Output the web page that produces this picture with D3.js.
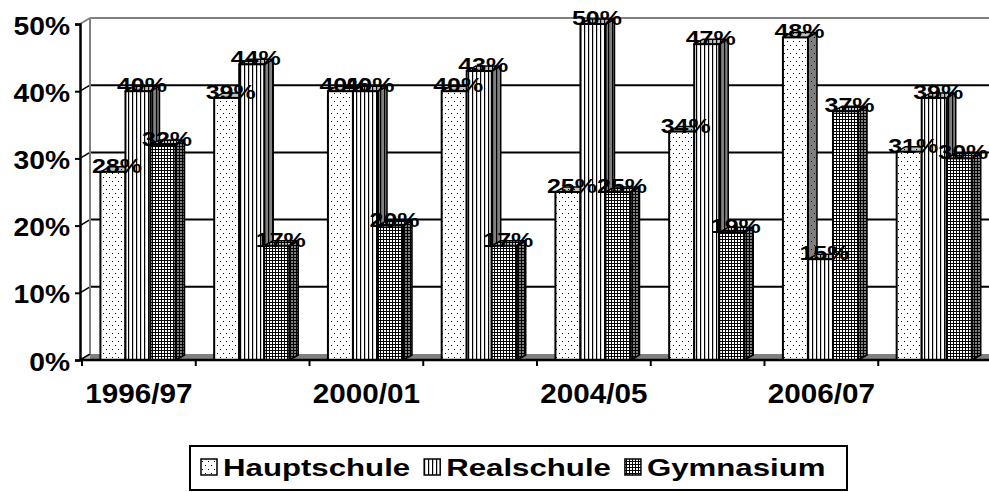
<!DOCTYPE html>
<html>
<head>
<meta charset="utf-8">
<script src="https://cdn.jsdelivr.net/npm/d3@7"></script>
<style>
  body { margin: 0; background: #fff; }
  svg { display: block; }
  text { font-family: "Liberation Sans", Arial, sans-serif; font-weight: bold; fill: #000; }
</style>
</head>
<body>
<div id="chart"></div>
<script>
// school years (only every other one is labelled on the axis)
const categories = ["1996/97", "1998/99", "2000/01", "2002/03", "2004/05", "2005/06", "2006/07", "2007/08"];
const tickLabels = ["1996/97", "2000/01", "2004/05", "2006/07"];
const seriesNames = ["Hauptschule", "Realschule", "Gymnasium"];
const hauptschule = [28, 39, 40, 40, 25, 34, 48, 31];
const realschule = [40, 44, 40, 43, 50, 47, 15, 39];
const gymnasium = [32, 17, 20, 17, 25, 19, 37, 30];
const yTicks = [0, 10, 20, 30, 40, 50];

const seriesValues = [hauptschule, realschule, gymnasium];
const patternIds = ["pat-h", "pat-r", "pat-g"];

const W = 989, H = 492;
const plotLeft = 80, plotBottom = 360, plotTop = 24;
const depth = { x: 10, y: -6 };     // wall depth
const barDepth = { x: 9, y: -5 };   // column depth

const svg = d3.select("#chart").append("svg")
  .attr("width", W).attr("height", H);

// fill patterns (transparent background, black marks)
const defs = svg.append("defs");
const ph = defs.append("pattern").attr("id", "pat-h").attr("patternUnits", "userSpaceOnUse")
  .attr("width", 6).attr("height", 8);
ph.append("rect").attr("x", 1).attr("y", 1).attr("width", 1).attr("height", 1).attr("fill", "#000");
ph.append("rect").attr("x", 4).attr("y", 5).attr("width", 1).attr("height", 1).attr("fill", "#000");

const pr = defs.append("pattern").attr("id", "pat-r").attr("patternUnits", "userSpaceOnUse")
  .attr("width", 4).attr("height", 4);
pr.append("rect").attr("x", 0).attr("y", 0).attr("width", 1.2).attr("height", 4).attr("fill", "#000");

const pg = defs.append("pattern").attr("id", "pat-g").attr("patternUnits", "userSpaceOnUse")
  .attr("width", 3).attr("height", 3);
pg.append("rect").attr("x", 2).attr("y", 0).attr("width", 1).attr("height", 3).attr("fill", "#000");
pg.append("rect").attr("x", 0).attr("y", 2).attr("width", 3).attr("height", 1).attr("fill", "#000");

const x0 = d3.scaleBand().domain(categories).range([82, 992]).padding(0);
const bw = x0.bandwidth();
const x1 = d3.scaleBand().domain(seriesNames).range([bw * 0.162, bw * 0.822]).padding(0);
const y = d3.scaleLinear().domain([0, 50]).range([plotBottom, plotTop]);

// floor
svg.append("polygon")
  .attr("points", [[plotLeft, plotBottom], [plotLeft + depth.x, plotBottom + depth.y], [W + 5, plotBottom + depth.y], [W + 5, plotBottom]].join(" "))
  .attr("fill", "#808080");
svg.append("polygon")
  .attr("points", [[plotLeft, plotBottom], [plotLeft + depth.x, plotBottom + depth.y], [plotLeft + depth.x, plotBottom], [plotLeft, plotBottom]].join(" "))
  .attr("fill", "#c0c0c0");

// gridlines on the back wall + side wall slants
yTicks.forEach(t => {
  const yy = y(t);
  const isTop = t === 50;
  const col = isTop ? "#808080" : "#000";
  if (t > 0) {
    svg.append("line")
      .attr("x1", plotLeft + depth.x).attr("x2", W + 5)
      .attr("y1", yy + depth.y).attr("y2", yy + depth.y)
      .attr("stroke", col).attr("stroke-width", 2);
  }
  svg.append("line")
    .attr("x1", plotLeft).attr("x2", plotLeft + depth.x)
    .attr("y1", yy).attr("y2", yy + depth.y)
    .attr("stroke", col).attr("stroke-width", isTop ? 2 : 1.5);
});
svg.append("line")
  .attr("x1", plotLeft + depth.x).attr("x2", plotLeft + depth.x)
  .attr("y1", y(50) + depth.y).attr("y2", plotBottom + depth.y)
  .attr("stroke", "#808080").attr("stroke-width", 2);

// columns
const bars = [];
categories.forEach((c, i) => {
  seriesNames.forEach((s, j) => {
    bars.push({ cat: c, series: s, idx: j, value: seriesValues[j][i] });
  });
});

const w = x1.bandwidth();
const g = svg.append("g");
bars.forEach(d => {
  const bx = x0(d.cat) + x1(d.series);
  const by = y(d.value);
  const dx = barDepth.x, dy = barDepth.y;
  const pat = "url(#" + patternIds[d.idx] + ")";
  const side = [[bx + w, by], [bx + w + dx, by + dy], [bx + w + dx, plotBottom + dy], [bx + w, plotBottom]].join(" ");
  const topFace = [[bx, by], [bx + dx, by + dy], [bx + w + dx, by + dy], [bx + w, by]].join(" ");
  const bar = g.append("g");
  bar.append("polygon").attr("points", side).attr("fill", "#808080");
  bar.append("polygon").attr("points", side).attr("fill", pat)
    .attr("stroke", "#000").attr("stroke-width", 1.5).attr("stroke-linejoin", "round");
  bar.append("polygon").attr("points", topFace).attr("fill", "#c0c0c0");
  bar.append("polygon").attr("points", topFace).attr("fill", pat)
    .attr("stroke", "#000").attr("stroke-width", 1.5).attr("stroke-linejoin", "round");
  bar.append("rect").attr("x", bx).attr("y", by).attr("width", w).attr("height", plotBottom - by)
    .attr("fill", "#fff");
  bar.append("rect").attr("x", bx).attr("y", by).attr("width", w).attr("height", plotBottom - by)
    .attr("fill", pat).attr("stroke", "#000").attr("stroke-width", 2);
});

// axes
const yAxis = svg.append("g")
  .attr("transform", "translate(" + plotLeft + ",0)")
  .call(d3.axisLeft(y).tickValues(yTicks).tickFormat(d => d + "%").tickSize(5).tickPadding(0));
yAxis.select(".domain").attr("stroke", "#000").attr("stroke-width", 2.5);
yAxis.selectAll(".tick line").attr("stroke", "#000").attr("stroke-width", 2);
yAxis.selectAll(".tick text")
  .attr("x", 0).attr("dy", 0).attr("y", 0)
  .attr("transform", "translate(-10,10) scale(1.13,1)")
  .style("font-size", "25px").attr("font-family", null);

const xAxis = svg.append("g")
  .attr("transform", "translate(0," + plotBottom + ")")
  .call(d3.axisBottom(x0).tickSize(0).tickFormat(d => tickLabels.includes(d) ? d : ""));
xAxis.select(".domain").attr("d", "M" + plotLeft + ",0H" + (W + 5)).attr("stroke", "#000").attr("stroke-width", 2.5);
xAxis.selectAll(".tick text")
  .attr("y", 0).attr("dy", 0)
  .attr("transform", "translate(0,43) scale(1.06,1)")
  .style("font-size", "28px").attr("font-family", null);
xAxis.selectAll(".bound")
  .data(categories.map(c => x0(c)).concat([x0.range()[1]]))
  .enter().append("line").attr("class", "bound")
  .attr("x1", d => d).attr("x2", d => d)
  .attr("y1", 0).attr("y2", 6)
  .attr("stroke", "#000").attr("stroke-width", 2);

// value labels
svg.append("g").selectAll("text")
  .data(bars)
  .enter().append("text")
  .attr("text-anchor", "middle")
  .attr("transform", d => "translate(" + (x0(d.cat) + x1(d.series) + w / 2 + 4) + "," + (y(d.value) + 1) + ") scale(1.19,1)")
  .style("font-size", "21px")
  .text(d => d.value + "%");

// legend
const legend = svg.append("g");
legend.append("rect")
  .attr("x", 190).attr("y", 446).attr("width", 657).attr("height", 44)
  .attr("fill", "#fff").attr("stroke", "#000").attr("stroke-width", 2);
let cursor = 201;
seriesNames.forEach((s, j) => {
  legend.append("rect").attr("x", cursor).attr("y", 459).attr("width", 16).attr("height", 16).attr("fill", "#fff");
  legend.append("rect").attr("x", cursor).attr("y", 459).attr("width", 16).attr("height", 16)
    .attr("fill", "url(#" + patternIds[j] + ")").attr("stroke", "#000").attr("stroke-width", 1.5);
  const t = legend.append("text")
    .attr("transform", "translate(" + (cursor + 22) + ",476) scale(1.3,1)")
    .style("font-size", "24px")
    .text(s);
  cursor += 22 + t.node().getComputedTextLength() * 1.3 + 14;
});
</script>
</body>
</html>
